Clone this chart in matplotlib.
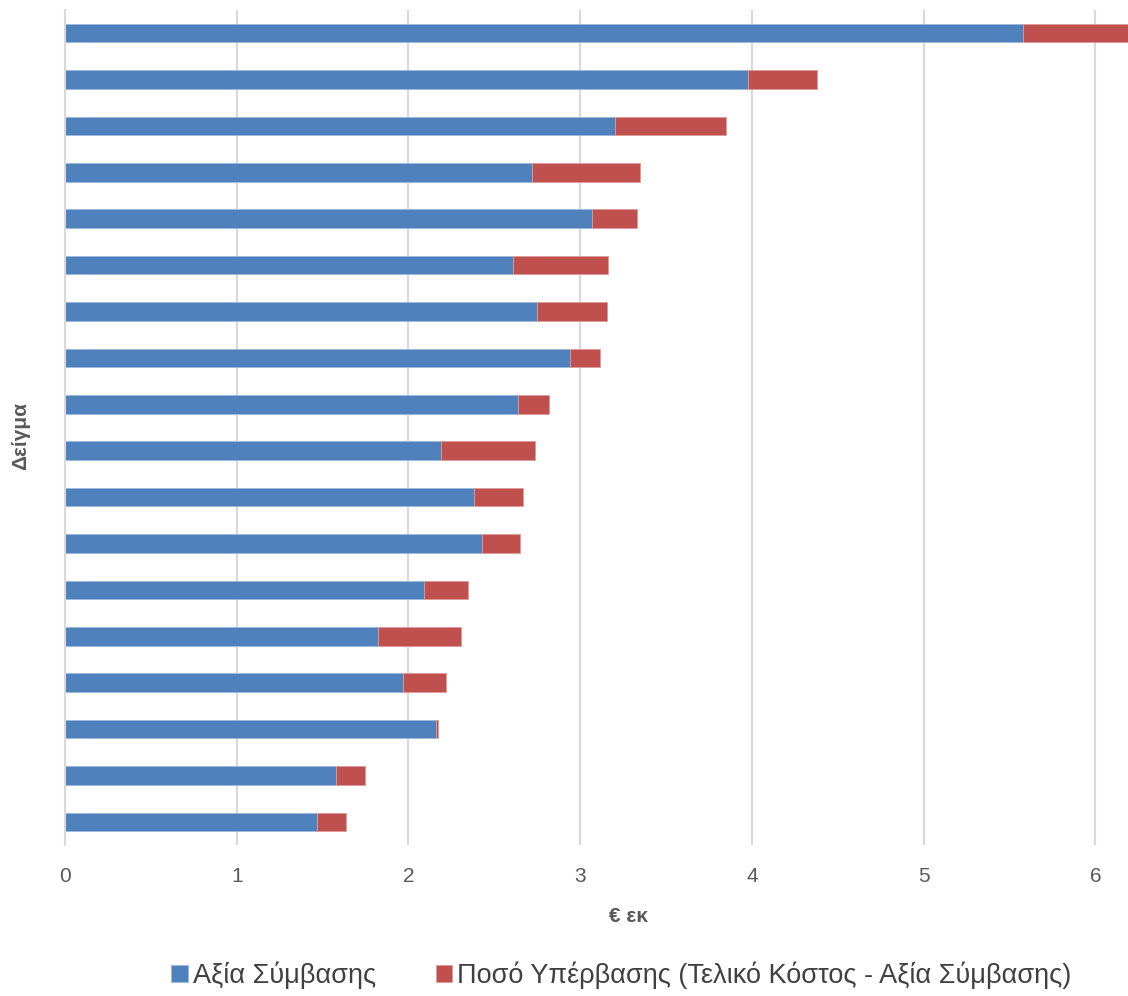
# Contract value vs overrun per sample, stacked horizontal bars
import numpy as np
import matplotlib.pyplot as plt

# Values in € (εκ.), listed from the top bar down
contract_value = [5.58, 3.98, 3.20, 2.72, 3.07, 2.61, 2.75, 2.94, 2.64,
                  2.19, 2.38, 2.43, 2.09, 1.82, 1.97, 2.16, 1.58, 1.47]
final_cost = [6.20, 4.38, 3.85, 3.35, 3.33, 3.16, 3.155, 3.115, 2.82,
              2.735, 2.665, 2.65, 2.345, 2.305, 2.22, 2.17, 1.745, 1.635]
overrun = [f - c for f, c in zip(final_cost, contract_value)]

label_value = 'Αξία Σύμβασης'
label_overrun = 'Ποσό Υπέρβασης (Τελικό Κόστος - Αξία Σύμβασης)'

blue = '#4F81BD'
red = '#C0504D'

plt.rcParams['font.family'] = ['Liberation Sans', 'DejaVu Sans']

fig = plt.figure(figsize=(11.28, 9.96), dpi=100)
ax = fig.add_axes([65 / 1128, 1 - 845 / 996, 1 - 65 / 1128, 835 / 996])

n = len(contract_value)
y = np.arange(n)[::-1]
ax.barh(y, contract_value, height=0.4, color=blue, edgecolor='#9DB7DB', linewidth=0.6,
        label=label_value)
ax.barh(y, overrun, left=contract_value, height=0.4, color=red, edgecolor='#DC9A98',
        linewidth=0.6, label=label_overrun)

ax.set_xlim(0, 6.19)
ax.set_ylim(-0.5, n - 0.5)
ax.set_xticks(range(7))
ax.set_yticks([])
ax.xaxis.grid(True, color='#D9D9D9', linewidth=1.5)
ax.set_axisbelow(True)
for s in ['top', 'right', 'bottom']:
    ax.spines[s].set_visible(False)
ax.spines['left'].set_color('#D9D9D9')
ax.spines['left'].set_linewidth(1.5)
ax.tick_params(axis='x', length=0, pad=16, labelsize=15, labelcolor='#595959')

ax.set_xlabel('€ εκ', fontsize=15, fontweight='bold', color='#595959')
ax.xaxis.set_label_coords(0.53, -0.074)
ax.set_ylabel('Δείγμα', fontsize=15, fontweight='bold', color='#595959')
ax.yaxis.set_label_coords(-0.033, 0.49)

fig.legend(loc='center', bbox_to_anchor=(0.551, 0.021), ncol=2, frameon=False,
           fontsize=19.5, labelcolor='#404040', handlelength=0.6, handleheight=0.6,
           handletextpad=0.2, columnspacing=2.2)

fig.savefig('out.png', dpi=100)
